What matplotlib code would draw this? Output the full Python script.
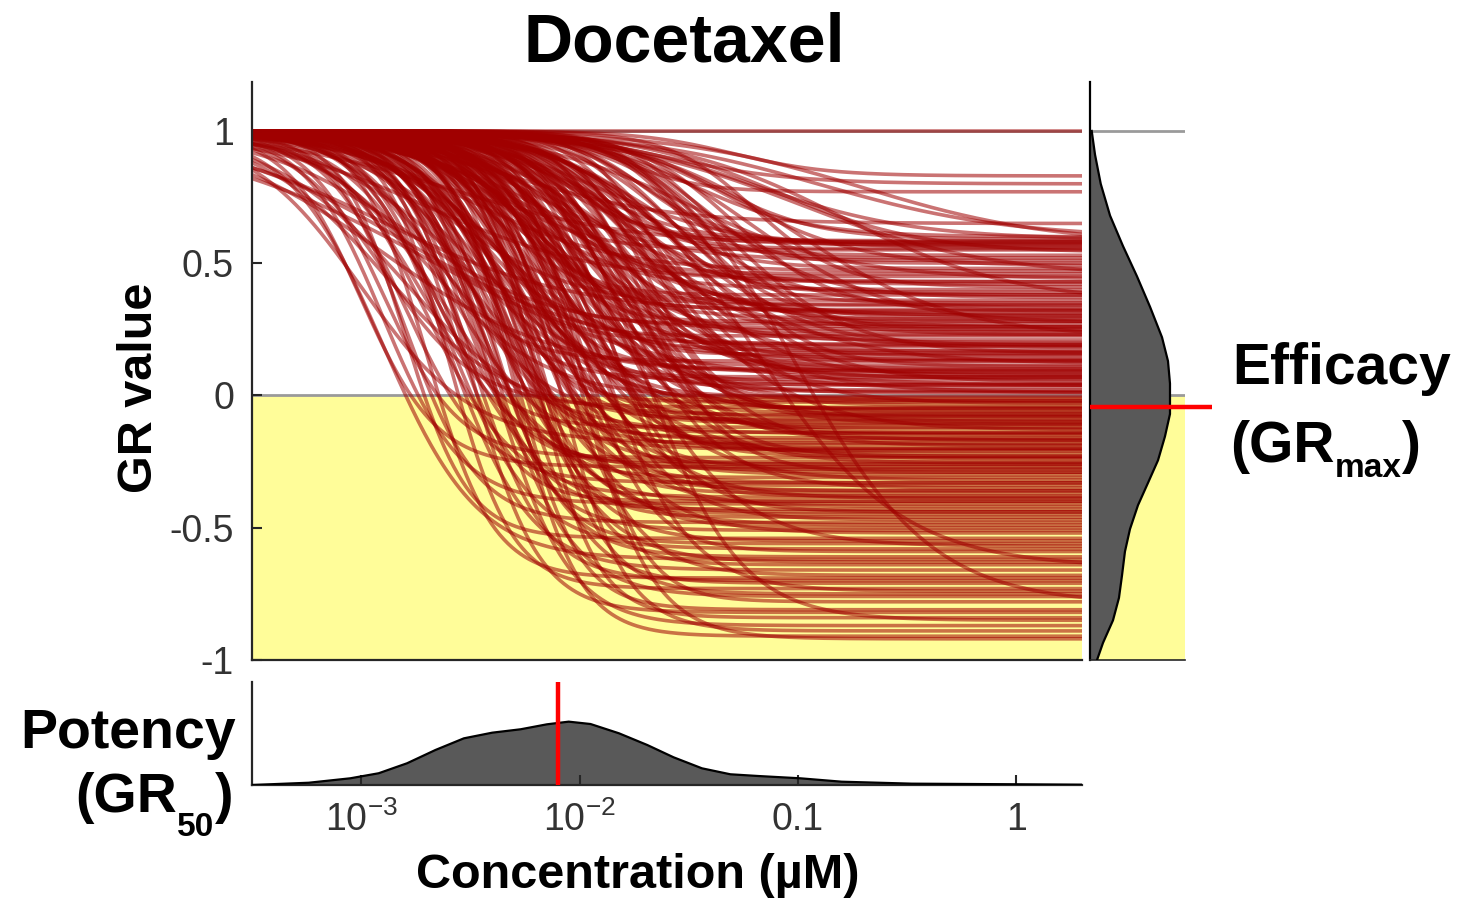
import numpy as np
import matplotlib
matplotlib.use("Agg")
import matplotlib.pyplot as plt

plt.rcParams['font.family'] = ['Liberation Sans', 'DejaVu Sans']
plt.rcParams['mathtext.fontset'] = 'custom'
plt.rcParams['mathtext.rm'] = 'Liberation Sans'
plt.rcParams['mathtext.it'] = 'Liberation Sans:italic'
plt.rcParams['mathtext.bf'] = 'Liberation Sans:bold'

# ---------------- data ----------------
title = "Docetaxel"
# GR curve parameters per cell line: GRinf, log10(GEC50 / uM), Hill coefficient
gr_inf = [1.00, 0.83, 0.80, 0.77, 0.59, 0.58,
          0.60, 0.65, 0.595, 0.575, 0.565,
          0.59, 0.58, 0.57, 0.56, 0.55, 0.54, 0.52, 0.51,
          0.49, 0.48, 0.47, 0.45, 0.45, 0.44, 0.43, 0.42, 0.41, 0.40,
          0.39, 0.38, 0.37, 0.36, 0.35, 0.345, 0.34, 0.33, 0.325, 0.32, 0.31, 0.305, 0.30,
          0.295, 0.29, 0.28, 0.275, 0.27, 0.26, 0.255, 0.25, 0.245, 0.24, 0.23, 0.225, 0.22, 0.21, 0.20,
          0.195, 0.19, 0.185, 0.18, 0.17, 0.165, 0.16, 0.155, 0.15, 0.14, 0.135, 0.13, 0.12, 0.115, 0.11, 0.10,
          0.095, 0.09, 0.085, 0.08, 0.075, 0.07, 0.065, 0.06, 0.05, 0.045, 0.04, 0.035, 0.03, 0.02, 0.015, 0.01,
          -0.005, -0.01, -0.02, -0.025, -0.03, -0.04, -0.045, -0.05, -0.06, -0.065, -0.07, -0.075, -0.08, -0.09, -0.095, -0.10,
          -0.105, -0.11, -0.12, -0.125, -0.13, -0.14, -0.145, -0.15, -0.16, -0.165, -0.17, -0.18, -0.185, -0.19, -0.20,
          -0.205, -0.21, -0.22, -0.23, -0.235, -0.24, -0.25, -0.255, -0.26, -0.27, -0.275, -0.28, -0.29, -0.30,
          -0.31, -0.32, -0.33, -0.34, -0.35, -0.36, -0.37, -0.38, -0.385, -0.39, -0.40,
          -0.41, -0.42, -0.43, -0.44, -0.45, -0.46, -0.47, -0.48, -0.49,
          -0.51, -0.52, -0.54, -0.55, -0.57, -0.58, -0.59,
          -0.61, -0.62, -0.64, -0.65, -0.66, -0.68, -0.69,
          -0.71, -0.73, -0.74, -0.76, -0.78, -0.79,
          -0.82, -0.84, -0.85, -0.87, -0.89,
          -0.91, -0.92,
          0.555, 0.585, 0.57, 0.53, 0.50, 0.46, 0.43, 0.38, 0.35, 0.32,
          0.28, 0.26, 0.23, 0.19, 0.16, 0.13, 0.10, 0.07, 0.04, 0.01,
          -0.02, -0.05, -0.08, -0.11, -0.14, -0.17, -0.20, -0.23, -0.26, -0.29,
          -0.33, -0.36, -0.40, -0.44, -0.50, -0.56, -0.63, -0.70, -0.75, -0.81]
log_gec50 = [-1.0, -1.3, -1.6, -1.8, -1.2, -2.0,
             -1.5, -2.3, -0.9, -1.7, -2.6,
             -1.4, -2.0, -0.7, -1.9, -2.4, -1.1, -1.6, -2.2,
             -1.3, -1.8, -2.5, -1.0, -2.1, -1.5, -2.7, -1.9, -1.2, -2.3,
             -1.7, -2.0, -1.4, -2.4, -0.8, -1.9, -2.6, -1.6, -2.2, -1.3, -2.9, -1.8, -2.1,
             -1.5, -2.3, -1.9, -1.2, -2.5, -1.7, -2.0, -2.8, -1.4, -2.2, -1.6, -2.4, -1.0, -1.9, -2.1,
             -2.6, -1.5, -2.0, -1.8, -2.3, -2.8, -1.3, -2.1, -1.7, -2.4, -1.9, -2.7, -1.6, -2.2, -1.4, -2.0,
             -2.5, -1.8, -2.1, -2.9, -1.6, -2.3, -1.9, -2.6, -1.5, -2.2, -2.0, -2.7, -1.7, -2.4, -2.1, -1.8,
             -2.2, -2.7, -1.9, -2.4, -1.6, -2.1, -2.9, -2.0, -2.5, -1.7, -2.3, -2.9, -1.8, -2.2, -2.6, -2.0,
             -2.4, -1.9, -2.7, -2.1, -1.6, -2.3, -2.8, -2.0, -2.5, -1.8, -2.2, -3.0, -2.4, -1.7, -2.1,
             -2.6, -2.0, -2.3, -1.8, -2.9, -2.2, -2.5, -1.9, -2.4, -3.0, -2.1, -2.7, -1.7, -2.3,
             -2.5, -2.0, -2.8, -2.2, -1.8, -2.6, -2.3, -1.9, -2.7, -2.1, -2.4,
             -2.9, -2.2, -2.5, -1.9, -2.6, -2.3, -2.0, -2.8, -2.4,
             -2.5, -2.1, -2.8, -2.3, -1.8, -2.6, -2.0,
             -2.4, -2.9, -2.2, -1.2, -2.6, -2.1, -2.7,
             -2.3, -2.6, -1.9, -2.4, -2.0, -1.0,
             -2.5, -2.2, -1.7, -2.4, -2.1,
             -2.3, -2.0,
             -1.9, -2.1, -1.7, -2.0, -1.5, -2.2, -1.8, -2.3, -1.6, -2.0,
             -2.2, -1.8, -2.0, -2.2, -1.9, -2.1, -2.3, -1.7, -2.4, -2.0,
             -2.3, -1.9, -2.4, -2.1, -1.8, -2.5, -2.2, -2.0, -2.6, -2.2,
             -2.4, -2.1, -2.6, -2.3, -2.2, -2.4, -2.3, -2.5, -2.2, -2.3]
hill = [1.0, 2.0, 1.5, 2.5, 1.2, 1.8,
        1.6, 1.2, 1.0, 2.2, 1.0,
        1.8, 2.5, 1.0, 1.4, 2.0, 1.3, 3.0, 1.5,
        1.5, 2.0, 1.3, 1.0, 2.8, 1.2, 1.1, 1.7, 2.2, 1.6,
        2.4, 1.3, 1.8, 2.1, 1.1, 3.2, 1.5, 1.4, 2.6, 1.9, 1.0, 2.0, 1.2,
        2.3, 1.7, 1.5, 1.4, 2.4, 3.0, 1.1, 1.3, 2.0, 1.9, 1.6, 2.8, 1.2, 2.2, 1.4,
        1.8, 1.7, 2.6, 1.3, 2.2, 1.0, 1.6, 3.1, 2.0, 1.5, 1.9, 2.3, 1.2, 2.7, 2.1, 1.6,
        2.0, 2.4, 1.4, 1.1, 1.8, 3.0, 1.6, 2.2, 1.5, 1.9, 2.8, 0.8, 2.1, 1.7, 2.3, 1.3,
        2.5, 1.6, 2.0, 2.9, 1.7, 1.5, 2.0, 2.3, 1.3, 2.6, 1.8, 1.5, 2.1, 3.2, 1.9, 1.4,
        2.2, 1.6, 2.7, 2.0, 1.5, 3.0, 1.4, 1.8, 2.4, 2.2, 1.3, 1.7, 2.6, 1.9, 2.3,
        2.0, 2.8, 1.6, 2.1, 2.5, 1.4, 3.3, 1.8, 2.2, 2.5, 2.5, 1.9, 2.4, 2.0,
        2.6, 1.7, 2.3, 2.9, 2.0, 1.6, 2.5, 3.1, 2.1, 1.8, 2.4,
        2.4, 2.0, 2.8, 2.3, 1.9, 3.0, 2.2, 2.6, 1.8,
        2.5, 2.1, 3.0, 2.4, 1.7, 2.2, 2.8,
        2.6, 2.0, 3.0, 1.3, 2.3, 2.5, 2.9,
        2.7, 3.0, 2.2, 2.4, 3.1, 1.4,
        2.8, 3.2, 2.0, 2.5, 2.9,
        3.0, 2.6,
        2.6, 2.0, 2.4, 1.8, 2.6, 2.2, 2.9, 2.7, 2.2, 2.4,
        3.0, 1.9, 2.5, 2.0, 2.7, 1.8, 2.5, 2.3, 2.1, 2.0,
        2.2, 2.7, 2.0, 2.6, 2.3, 2.1, 2.9, 2.4, 2.7, 2.2,
        2.0, 2.7, 3.0, 2.6, 2.4, 2.9, 2.2, 2.6, 2.8, 3.0]

# Distribution of GRmax (right margin): GR value vs relative density
eff_gr = [1.0, 0.91, 0.80, 0.68, 0.565, 0.45, 0.335, 0.22, 0.13, 0.045, -0.07,
          -0.155, -0.245, -0.33, -0.415, -0.505, -0.59, -0.68, -0.765, -0.85, -0.935, -1.0]
eff_density = [0.018, 0.053, 0.113, 0.211, 0.347, 0.495, 0.632, 0.758, 0.821, 0.842, 0.842,
               0.789, 0.716, 0.611, 0.505, 0.421, 0.368, 0.337, 0.305, 0.242, 0.137, 0.074]
eff_median = -0.045

# Distribution of GR50 (bottom margin): log10 concentration vs relative density
pot_logc = [-3.5, -3.24, -3.05, -2.92, -2.79, -2.66, -2.53, -2.40, -2.27, -2.15, -2.05, -1.95,
            -1.82, -1.69, -1.57, -1.44, -1.31, -1.18, -0.99, -0.80, -0.48, 0.0, 0.3]
pot_density = [0.0, 0.022, 0.065, 0.114, 0.211, 0.34, 0.453, 0.508, 0.541, 0.589, 0.615, 0.592,
               0.502, 0.388, 0.269, 0.162, 0.104, 0.087, 0.065, 0.032, 0.013, 0.007, 0.003]
pot_median = 0.008

yticks = [-1, -0.5, 0, 0.5, 1]
ytick_labels = ['-1', '-0.5', '0', '0.5', '1']
xticks = [1e-3, 1e-2, 0.1, 1]
xtick_labels = [r'$\mathregular{10^{-3}}$', r'$\mathregular{10^{-2}}$', '0.1', '1']

# ---------------- figure ----------------
W, H = 1457, 898
fig = plt.figure(figsize=(W / 100, H / 100), dpi=100)

XMIN, XMAX = 10 ** -3.5, 10 ** 0.3
YMIN, YMAX = -1, 1.185
DARK = '#262626'
YELLOW = '#FFFD99'
GREY = '#9a9a9a'

def fx(px):
    return px / W

def fy(px):
    return 1 - px / H

ax = fig.add_axes([fx(252), fy(660), 830 / W, 578 / H])
ax_b = fig.add_axes([fx(252), fy(785), 830 / W, 103 / H])
ax_r = fig.add_axes([fx(1090), fy(660), 95 / W, 578 / H])

# main panel
conc = np.logspace(-3.5, 0.3, 400)
ax.axhspan(-1, 0, color=YELLOW, zorder=0, lw=0)
ax.axhline(0, color=GREY, lw=2, zorder=1)
ax.axhline(1, color=GREY, lw=2, zorder=1)
for g, e, h in zip(gr_inf, log_gec50, hill):
    gr = g + (1 - g) / (1 + (conc / 10 ** e) ** h)
    ax.plot(conc, gr, color='#A00000', alpha=0.55, lw=2.6, zorder=2, solid_capstyle='butt')
ax.set_xscale('log')
ax.set_xlim(XMIN, XMAX)
ax.set_ylim(YMIN, YMAX)
ax.set_yticks(yticks)
ax.set_yticklabels(ytick_labels)
ax.tick_params(axis='x', which='both', bottom=False, labelbottom=False)
ax.tick_params(axis='y', direction='in', length=7, width=1.5, color=DARK,
               labelsize=27, labelcolor='#333333', pad=13)
for s in ['top', 'right']:
    ax.spines[s].set_visible(False)
for s in ['left', 'bottom']:
    ax.spines[s].set_color(DARK)
    ax.spines[s].set_linewidth(1.6)

# right panel (GRmax distribution)
ax_r.axhspan(-1, 0, color=YELLOW, zorder=0, lw=0)
ax_r.axhline(0, color=GREY, lw=2, zorder=1)
ax_r.axhline(1, color=GREY, lw=2, zorder=1)
ax_r.fill_betweenx(eff_gr, 0, eff_density, facecolor='#595959', edgecolor='none', zorder=2)
ax_r.plot(eff_density, eff_gr, color='black', lw=1.6, zorder=3)
ax_r.plot([0, 1.284], [eff_median, eff_median], color='#FF0000', lw=3.2, zorder=4, clip_on=False,
          solid_capstyle='butt')
ax_r.set_xlim(0, 1)
ax_r.set_ylim(YMIN, YMAX)
ax_r.set_xticks([])
ax_r.set_yticks([])
for s in ['top', 'right']:
    ax_r.spines[s].set_visible(False)
ax_r.spines['left'].set_color('black')
ax_r.spines['left'].set_linewidth(1.6)
ax_r.spines['bottom'].set_color(DARK)
ax_r.spines['bottom'].set_linewidth(1.2)

# bottom panel (GR50 distribution)
pot_c = [10 ** v for v in pot_logc]
ax_b.fill_between(pot_c, 0, pot_density, facecolor='#595959', edgecolor='none', zorder=1)
ax_b.plot(pot_c, pot_density, color='black', lw=1.6, zorder=3)
ax_b.plot([pot_median, pot_median], [0, 1], color='#FF0000', lw=3.2, zorder=4, solid_capstyle='butt')
ax_b.set_xscale('log')
ax_b.set_xlim(XMIN, XMAX)
ax_b.set_ylim(0, 1)
ax_b.set_yticks([])
ax_b.set_xticks(xticks)
ax_b.set_xticklabels(xtick_labels)
ax_b.xaxis.set_minor_locator(matplotlib.ticker.NullLocator())
ax_b.tick_params(axis='x', direction='in', length=7, width=1.5, color=DARK,
                 labelsize=27, labelcolor='#333333', pad=12)
for s in ['top', 'right']:
    ax_b.spines[s].set_visible(False)
for s in ['left', 'bottom']:
    ax_b.spines[s].set_color(DARK)
    ax_b.spines[s].set_linewidth(1.6)

# ---------------- texts ----------------
fig.text(fx(684), fy(62), title, fontsize=49, fontweight='bold', ha='center', va='baseline')
fig.text(fx(139), fy(388), 'GR value', fontsize=35, fontweight='bold', rotation=90,
         ha='center', va='center')
fig.text(fx(638), fy(888), 'Concentration (µM)', fontsize=35, fontweight='bold',
         ha='center', va='baseline')

fig.text(fx(1232), fy(384), 'Efficacy', fontsize=41, fontweight='bold', ha='left', va='baseline')
fig.text(fx(236), fy(748), 'Potency', fontsize=40, fontweight='bold', ha='right', va='baseline')

renderer = fig.canvas.get_renderer()

def place_segments(segs, x_px, anchor):
    texts = []
    for s, fs, base in segs:
        texts.append(fig.text(0, fy(base), s, fontsize=fs, fontweight='bold',
                              ha='left', va='baseline'))
    widths = [t.get_window_extent(renderer).width for t in texts]
    x = x_px if anchor == 'left' else x_px - sum(widths)
    for t, w in zip(texts, widths):
        t.set_x(fx(x))
        x += w

place_segments([('(GR', 41, 462), ('max', 24, 477), (')', 41, 462)], 1230, 'left')
place_segments([('(GR', 40, 812), ('50', 24, 836), (')', 40, 812)], 233, 'right')

fig.savefig('out.png', dpi=100)
